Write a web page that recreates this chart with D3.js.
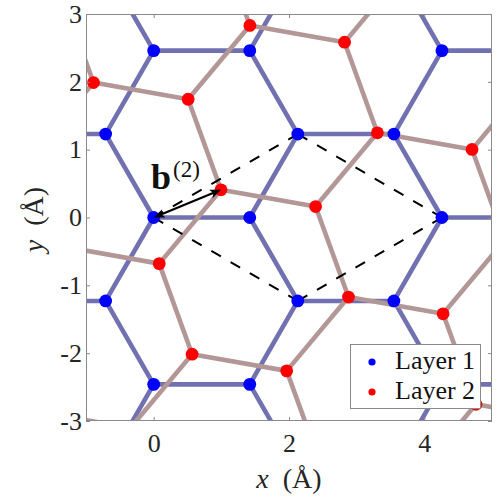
<!DOCTYPE html>
<html><head><meta charset="utf-8">
<script src="https://cdn.jsdelivr.net/npm/d3@7"></script>
<style>body{margin:0;background:#fff}</style>
</head><body>
<svg id="chart" width="500" height="500"></svg>
<script>
// ---------- data (Å) ----------
const xDomain = [-1, 5];
const yDomain = [-3, 3];
const xTicks = [0, 2, 4];
const yTicks = [-3, -2, -1, 0, 1, 2, 3];
const legendLabels = ["Layer 1", "Layer 2"];

const layer1Atoms = [
  [0,0],[0,2.46],[0,-2.46],[2.13,1.23],[2.13,-1.23],[4.26,0],[4.26,2.46],[4.26,-2.46],
  [-0.71,1.23],[-0.71,-1.23],[1.42,0],[1.42,2.46],[1.42,-2.46],[3.55,1.23],[3.55,-1.23]
];
const layer1Bonds = [
  [-2.13,1.23,-0.71,1.23],[-2.13,-1.23,-0.71,-1.23],
  [0,0,1.42,0],[0,0,-0.71,1.23],[0,0,-0.71,-1.23],
  [0,2.46,1.42,2.46],[0,2.46,-0.71,3.69],[0,2.46,-0.71,1.23],
  [0,-2.46,1.42,-2.46],[0,-2.46,-0.71,-1.23],[0,-2.46,-0.71,-3.69],
  [2.13,1.23,3.55,1.23],[2.13,1.23,1.42,2.46],[2.13,1.23,1.42,0],
  [2.13,-1.23,3.55,-1.23],[2.13,-1.23,1.42,0],[2.13,-1.23,1.42,-2.46],
  [2.13,3.69,1.42,2.46],[2.13,-3.69,1.42,-2.46],
  [4.26,0,5.68,0],[4.26,0,3.55,1.23],[4.26,0,3.55,-1.23],
  [4.26,2.46,5.68,2.46],[4.26,2.46,3.55,3.69],[4.26,2.46,3.55,1.23],
  [4.26,-2.46,5.68,-2.46],[4.26,-2.46,3.55,-3.69],[4.26,-2.46,3.55,-1.23]
];

const layer2Atoms = [
  [0.995,0.408],[3.306,1.249],[0.568,-2.015],[2.879,-1.173],[4.763,-2.754],[-0.889,1.989],[1.422,2.831],
  [2.393,0.161],[4.705,1.003],[0.509,1.743],[0.082,-0.680],[1.966,-2.261],[4.277,-1.420],[2.821,2.584]
];
const layer2Bonds = [
  [0.995,0.408,2.393,0.161],[0.995,0.408,0.509,1.743],[0.995,0.408,0.082,-0.680],
  [3.306,1.249,4.705,1.003],[3.306,1.249,2.821,2.584],[3.306,1.249,2.393,0.161],
  [5.617,2.091,4.705,1.003],
  [-1.316,-0.433,0.082,-0.680],
  [0.568,-2.015,1.966,-2.261],[0.568,-2.015,0.082,-0.680],[0.568,-2.015,-0.345,-3.103],
  [2.879,-1.173,4.277,-1.420],[2.879,-1.173,2.393,0.161],[2.879,-1.173,1.966,-2.261],
  [5.190,-0.332,4.705,1.003],[5.190,-0.332,4.277,-1.420],
  [-1.743,-2.856,-0.345,-3.103],
  [4.763,-2.754,6.161,-3.001],[4.763,-2.754,4.277,-1.420],[4.763,-2.754,3.850,-3.842],
  [2.452,-3.596,1.966,-2.261],
  [-0.889,1.989,0.509,1.743],[-0.889,1.989,-1.375,3.324],[-0.889,1.989,-1.802,0.901],
  [1.422,2.831,2.821,2.584],[1.422,2.831,0.937,4.165],[1.422,2.831,0.509,1.743],
  [3.733,3.672,2.821,2.584]
];

const cellCorners = [[0,0],[2.13,1.23],[4.26,0],[2.13,-1.23]];
const shiftVector = [0.995, 0.408];

// ---------- layout ----------
const svg = d3.select("#chart");
const L = 86, R = 492, T = 14, B = 421;
const x = d3.scaleLinear().domain(xDomain).range([L, R]);
const y = d3.scaleLinear().domain(yDomain).range([B, T]);
const serif = "'Liberation Serif', 'Times New Roman', serif";
const blueBond = "#7171b1", redBond = "#b39797";

svg.append("rect").attr("width",500).attr("height",500).attr("fill","#fff");
svg.append("defs").append("clipPath").attr("id","clip")
  .append("rect").attr("x",L).attr("y",T).attr("width",R-L).attr("height",B-T);

const plot = svg.append("g");
const clipped = plot.append("g").attr("clip-path","url(#clip)");

function bonds(g, data, color){
  g.selectAll(null).data(data).enter().append("line")
    .attr("x1",d=>x(d[0])).attr("y1",d=>y(d[1]))
    .attr("x2",d=>x(d[2])).attr("y2",d=>y(d[3]))
    .attr("stroke",color).attr("stroke-width",4.6).attr("stroke-linecap","butt");
}
function atoms(g, data, color){
  g.selectAll(null).data(data).enter().append("circle")
    .attr("cx",d=>x(d[0])).attr("cy",d=>y(d[1])).attr("r",6.4).attr("fill",color);
}

bonds(clipped.append("g"), layer1Bonds, blueBond);
atoms(plot.append("g"), layer1Atoms, "#0000ff");
bonds(clipped.append("g"), layer2Bonds, redBond);

// legend (drawn before layer-2 atoms as in reference)
const leg = svg.append("g");
leg.append("rect").attr("x",350.5).attr("y",344.5).attr("width",130).attr("height",64)
  .attr("fill","#fff").attr("stroke","#8a8a8a").attr("stroke-width",1);
const legColors = ["#0000ff","#ff0000"];
legendLabels.forEach((t,i)=>{
  leg.append("circle").attr("cx",372).attr("cy",362+i*30).attr("r",3.6).attr("fill",legColors[i]);
  leg.append("text").attr("x",395).attr("y",369+i*30).attr("font-family",serif)
    .attr("font-size",26).attr("fill","#111").text(t);
});

atoms(plot.append("g"), layer2Atoms, "#ff0000");

// dashed unit cell
const cellG = clipped.append("g");
cellCorners.forEach((c,i)=>{
  const n = cellCorners[(i+1)%cellCorners.length];
  const x1=x(c[0]), y1=y(c[1]), x2=x(n[0]), y2=y(n[1]);
  const len = Math.hypot(x2-x1,y2-y1);
  const dash = 11, nd = 8, gap = (len - nd*dash)/(nd-1);
  cellG.append("line").attr("x1",x1).attr("y1",y1).attr("x2",x2).attr("y2",y2)
    .attr("stroke","#000").attr("stroke-width",2)
    .attr("stroke-dasharray",dash+","+gap);
});

// double arrow b(2)
(function(){
  const x1=x(0), y1=y(0), x2=x(shiftVector[0]), y2=y(shiftVector[1]);
  const ang = Math.atan2(y2-y1,x2-x1);
  const hl = 11, hw = 4.5;
  svg.append("line").attr("x1",x1+Math.cos(ang)*4).attr("y1",y1+Math.sin(ang)*4)
    .attr("x2",x2-Math.cos(ang)*4).attr("y2",y2-Math.sin(ang)*4)
    .attr("stroke","#000").attr("stroke-width",2.2);
  function head(px,py,a){
    const bx = px - Math.cos(a)*hl, by = py - Math.sin(a)*hl;
    const nx = -Math.sin(a)*hw, ny = Math.cos(a)*hw;
    const ix = px - Math.cos(a)*hl*0.75, iy = py - Math.sin(a)*hl*0.75;
    svg.append("path").attr("d",`M${px},${py}L${bx+nx},${by+ny}L${ix},${iy}L${bx-nx},${by-ny}Z`)
      .attr("fill","#000");
  }
  head(x2,y2,ang); head(x1,y1,ang+Math.PI);
})();

const lab = svg.append("text").attr("x",151).attr("y",189).attr("font-family",serif).attr("fill","#111");
lab.append("tspan").attr("font-weight","bold").attr("font-size",36).text("b");
lab.append("tspan").attr("font-size",23).attr("dx",2).attr("dy",-12).text("(2)");

// axes
svg.append("rect").attr("x",L+0.5).attr("y",T+0.5).attr("width",R-L-1).attr("height",B-T-1)
  .attr("fill","none").attr("stroke","#8a8a8a").attr("stroke-width",1);

function styleAxis(g){
  g.select(".domain").remove();
  g.selectAll(".tick line").attr("stroke","#8a8a8a");
  g.selectAll(".tick text").attr("font-family",serif).attr("font-size",26).attr("fill","#262626");
}
svg.append("g").attr("transform",`translate(0,${B})`)
  .call(d3.axisBottom(x).tickValues(xTicks).tickFormat(d3.format("d")).tickSizeInner(-4).tickSizeOuter(0).tickPadding(13))
  .call(styleAxis);
svg.append("g").attr("transform",`translate(0,${T})`)
  .call(d3.axisTop(x).tickValues(xTicks).tickFormat("").tickSizeInner(-4).tickSizeOuter(0))
  .call(styleAxis);
svg.append("g").attr("transform",`translate(${L},0)`)
  .call(d3.axisLeft(y).tickValues(yTicks).tickFormat(d=>String(d)).tickSizeInner(-4).tickSizeOuter(0).tickPadding(4))
  .call(styleAxis);
svg.append("g").attr("transform",`translate(${R},0)`)
  .call(d3.axisRight(y).tickValues(yTicks).tickFormat("").tickSizeInner(-4).tickSizeOuter(0))
  .call(styleAxis);

// axis labels
const xl = svg.append("text").attr("x",(L+R)/2).attr("y",488).attr("text-anchor","middle")
  .attr("font-family",serif).attr("font-size",28).attr("fill","#262626");
xl.append("tspan").attr("font-style","italic").text("x");
xl.append("tspan").text("\u2002(Å)");
const yl = svg.append("text").attr("transform",`translate(43,${(T+B)/2+2}) rotate(-90)`).attr("text-anchor","middle")
  .attr("font-family",serif).attr("font-size",28).attr("fill","#262626");
yl.append("tspan").attr("font-style","italic").text("y");
yl.append("tspan").text("\u2002(Å)");
</script>
</body></html>
